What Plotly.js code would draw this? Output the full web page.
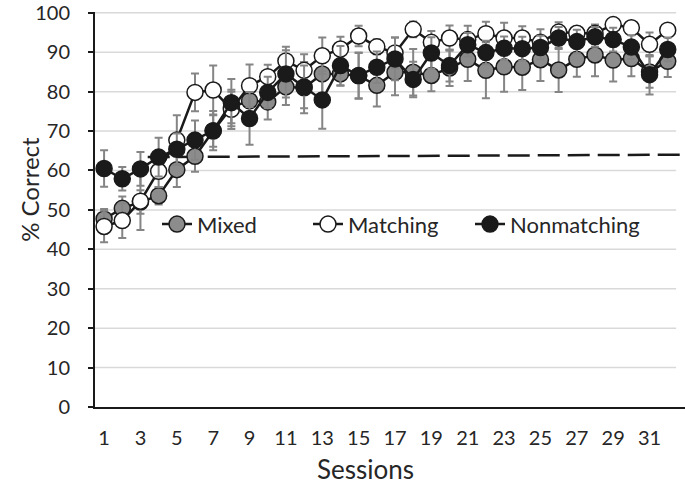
<!DOCTYPE html>
<html>
<head>
<meta charset="utf-8">
<script src="https://cdn.plot.ly/plotly-3.0.1.min.js"></script>
<style>html,body{margin:0;padding:0;background:#fff;}#chart{width:685px;height:487px;}</style>
</head>
<body>
<div id="chart"></div>
<script>
// ---- data ----
const sessions = Array.from({length: 32}, (_, i) => i + 1);
const mixed = [47.7, 50.4, 52.0, 53.6, 60.2, 63.6, 70.0, 76.0, 77.7, 77.4, 81.2, 81.0, 84.5, 84.5, 84.0, 81.6,
               84.9, 84.9, 84.1, 86.0, 88.2, 85.4, 86.3, 86.2, 88.1, 85.5, 88.2, 89.3, 88.0, 88.4, 85.0, 87.7];
const mixedErr = [2.5, 3, 3, 2.2, 4.4, 3.9, 4, 4, 4, 4.5, 4.6, 6.5, 5, 3, 5.8, 5.4,
                  5.8, 5.9, 4, 4.6, 5.5, 7.1, 6.3, 5.8, 5.4, 5.6, 4.4, 5.4, 5.4, 4.5, 4, 4];
const matching = [45.8, 47.3, 52.2, 59.8, 67.7, 79.8, 80.4, 75.5, 81.5, 83.8, 87.8, 85.4, 89.1, 90.8, 94.1, 91.4,
                  89.8, 95.8, 92.5, 93.6, 93.2, 94.7, 93.6, 93.6, 92.5, 95.1, 94.8, 94.8, 97.0, 96.2, 92.0, 95.6];
const matchingErr = [4, 4.4, 7.3, 4, 6.3, 4.8, 6.2, 5, 5.4, 3, 3.6, 4.1, 4.6, 3.1, 2.6, 1.9,
                     3.9, 2, 2.9, 3.2, 3.5, 3, 3.9, 3, 3.3, 2.5, 1.7, 2.2, 1.5, 1.5, 3, 1.5];
const nonmatching = [60.5, 57.9, 60.4, 63.4, 65.4, 67.7, 70.1, 77.2, 73.2, 79.8, 84.5, 81.2, 77.9, 86.6, 84.1, 86.2,
                     88.3, 83.1, 89.8, 86.6, 91.9, 89.9, 91.0, 90.9, 91.2, 93.6, 92.7, 93.9, 93.2, 91.3, 84.3, 90.7];
const nonmatchingErr = [4.6, 3, 4.3, 4.9, 4, 5, 5, 6, 6.7, 4, 6, 5.4, 7.3, 5, 5.8, 4,
                        5.4, 4.5, 4, 4, 3, 3, 3, 3, 3, 2.8, 3, 2.5, 3, 3, 5, 3];
const refLineX = [3.4, 33];
const refLineY = [63.4, 64.0];
const xTickVals = [1, 3, 5, 7, 9, 11, 13, 15, 17, 19, 21, 23, 25, 27, 29, 31];
const yTickVals = [0, 10, 20, 30, 40, 50, 60, 70, 80, 90, 100];

// ---- styles ----
const FONT = 'Lato, "Open Sans", sans-serif';
const INK = '#1a1a1a';
const TXT = '#262626';
const ERRC = '#858585';

function series(name, y, err, fill, legendId) {
  return {
    type: 'scatter', mode: 'lines+markers', name: name, x: sessions, y: y,
    legend: legendId,
    line: {color: INK, width: 2.5},
    marker: {size: 16, color: fill, line: {color: INK, width: 1.5}},
    error_y: {type: 'data', array: err, visible: true, color: ERRC, thickness: 2, width: 4},
    cliponaxis: false
  };
}

const traces = [
  {type: 'scatter', mode: 'lines', x: refLineX, y: refLineY, showlegend: false, hoverinfo: 'skip',
   line: {color: INK, width: 2.5, dash: '22px,8px'}},
  series('Mixed', mixed, mixedErr, '#8c8c8c', 'legend'),
  series('Matching', matching, matchingErr, '#ffffff', 'legend2'),
  series('Nonmatching', nonmatching, nonmatchingErr, INK, 'legend3')
];

const gridShapes = yTickVals.filter(v => v > 0).map(v => ({
  type: 'line', xref: 'paper', yref: 'y', x0: 0, x1: 0.985, y0: v, y1: v,
  line: {color: '#d9d9d9', width: 1.5}, layer: 'below'
}));

function legendAt(px) {
  return {x: (px - 95) / 590, y: 0.4625, xanchor: 'left', yanchor: 'middle',
          bgcolor: 'rgba(0,0,0,0)', borderwidth: 0,
          font: {family: FONT, size: 22, color: TXT}, orientation: 'h'};
}

const layout = {
  width: 685, height: 487,
  margin: {l: 95, r: 0, t: 12, b: 80},
  paper_bgcolor: '#fff', plot_bgcolor: '#fff',
  font: {family: FONT, color: TXT},
  showlegend: true,
  legend: legendAt(157),
  legend2: legendAt(308),
  legend3: legendAt(470),
  xaxis: {
    range: [0.5, 32.95], tickmode: 'array', tickvals: xTickVals, ticktext: xTickVals.map(String),
    showgrid: false, zeroline: false, showline: true, linecolor: INK, linewidth: 2,
    ticks: '', tickfont: {family: FONT, size: 20, color: TXT}, ticklabelstandoff: 12
  },
  yaxis: {
    range: [0, 100.2], tickmode: 'array', tickvals: yTickVals, ticktext: yTickVals.map(String),
    showgrid: false, zeroline: false, showline: true, linecolor: INK, linewidth: 2,
    ticks: 'outside', ticklen: 5, tickwidth: 2, tickcolor: INK, ticklabeloverflow: 'allow',
    tickfont: {family: FONT, size: 20, color: TXT}, ticklabelstandoff: 14
  },
  shapes: gridShapes,
  annotations: [
    {text: '% Correct', xref: 'paper', yref: 'paper', x: -0.11, y: 0.55, textangle: -90,
     showarrow: false, xanchor: 'center', yanchor: 'middle', font: {family: FONT, size: 24, color: TXT}},
    {text: 'Sessions', xref: 'paper', yref: 'paper', x: 0.458, y: -0.157,
     showarrow: false, xanchor: 'center', yanchor: 'middle', font: {family: FONT, size: 26, color: TXT}}
  ]
};

Plotly.newPlot('chart', traces, layout, {staticPlot: true, displayModeBar: false});
</script>
</body>
</html>
